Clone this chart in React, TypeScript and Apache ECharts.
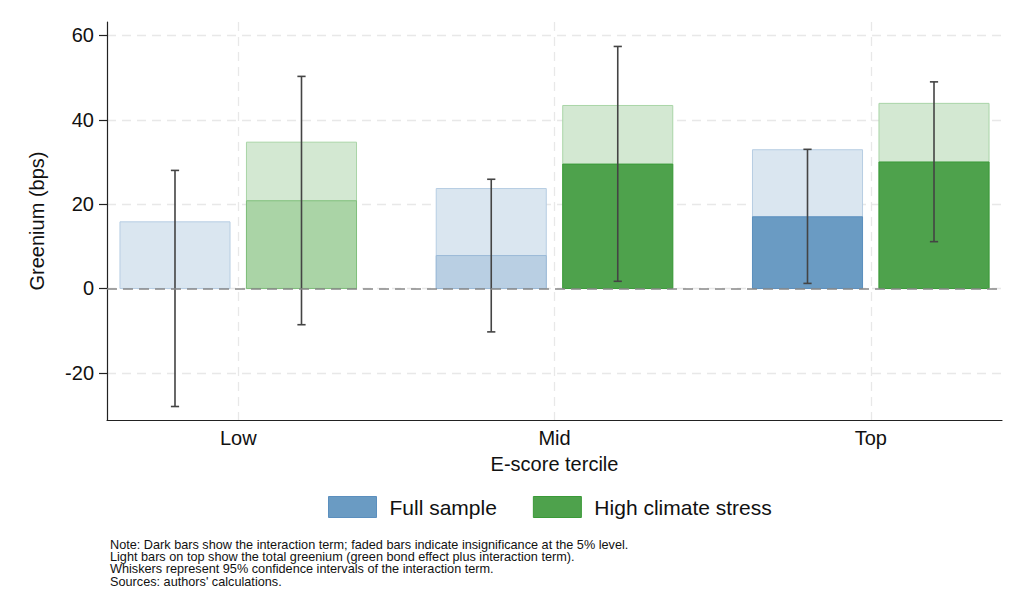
import React, { useEffect, useRef } from "react";
import * as echarts from "echarts";

const categories = ["Low", "Mid", "Top"];
const yTicks = [-20, 0, 20, 40, 60];

// Full sample
const fullTotal = [15.8, 23.7, 32.9];
const fullInter = [0.0, 7.8, 17.0];
const fullLo = [-28.0, -10.3, 1.2];
const fullHi = [28.0, 25.9, 33.0];
const fullSig = [false, false, true];

// High climate stress
const hcsTotal = [34.7, 43.4, 43.9];
const hcsInter = [20.8, 29.5, 30.0];
const hcsLo = [-8.6, 1.7, 11.1];
const hcsHi = [50.3, 57.4, 49.0];
const hcsSig = [false, true, true];

const noteLines = [
  "Note: Dark bars show the interaction term; faded bars indicate insignificance at the 5% level.",
  "Light bars on top show the total greenium (green bond effect plus interaction term).",
  "Whiskers represent 95% confidence intervals of the interaction term.",
  "Sources: authors' calculations.",
];

const FONT = "Liberation Sans, Arial, sans-serif";

const palettes = {
  full: {
    totalFill: "#dae6f0",
    totalBorder: "#b6cde3",
    fadedFill: "#b9cfe3",
    fadedBorder: "#9ab9d7",
    darkFill: "#6a9bc3",
    darkBorder: "#5b8fbe",
  },
  hcs: {
    totalFill: "#d3e8d2",
    totalBorder: "#a9d5a7",
    fadedFill: "#aad4a6",
    fadedBorder: "#7fbf7b",
    darkFill: "#4ea24c",
    darkBorder: "#3a9a38",
  },
};

function makeData(total: number[], inter: number[], lo: number[], hi: number[], sig: boolean[]) {
  return categories.map((_, i) => [i + 1, total[i], inter[i], lo[i], hi[i], sig[i] ? 1 : 0]);
}

function makeRenderItem(offset: number, pal: any) {
  const halfW = 0.174;
  const capHalf = 0.013;
  return (params: any, api: any) => {
    const x = api.value(0) + offset;
    const total = api.value(1);
    const inter = api.value(2);
    const lo = api.value(3);
    const hi = api.value(4);
    const sig = api.value(5) === 1;
    const a0 = api.coord([x - halfW, 0]);
    const aT = api.coord([x + halfW, total]);
    const aI = api.coord([x + halfW, inter]);
    const c = api.coord([x, lo]);
    const d = api.coord([x, hi]);
    const capL = api.coord([x - capHalf, lo])[0];
    const capR = api.coord([x + capHalf, lo])[0];
    const children: any[] = [
      {
        type: "rect",
        shape: { x: a0[0], y: aT[1], width: aT[0] - a0[0], height: a0[1] - aT[1] },
        style: { fill: pal.totalFill, stroke: pal.totalBorder, lineWidth: 1 },
      },
    ];
    if (Math.abs(inter) > 0.05) {
      children.push({
        type: "rect",
        shape: { x: a0[0], y: aI[1], width: aI[0] - a0[0], height: a0[1] - aI[1] },
        style: {
          fill: sig ? pal.darkFill : pal.fadedFill,
          stroke: sig ? pal.darkBorder : pal.fadedBorder,
          lineWidth: 1,
        },
      });
    }
    const wStyle = { stroke: "#444", lineWidth: 1.6 };
    children.push(
      { type: "line", shape: { x1: c[0], y1: c[1], x2: d[0], y2: d[1] }, style: wStyle, z2: 10 },
      { type: "line", shape: { x1: capL, y1: c[1], x2: capR, y2: c[1] }, style: wStyle, z2: 10 },
      { type: "line", shape: { x1: capL, y1: d[1], x2: capR, y2: d[1] }, style: wStyle, z2: 10 }
    );
    return { type: "group", children };
  };
}

export default function App() {
  const ref = useRef<HTMLDivElement>(null);
  useEffect(() => {
    if (!ref.current) return;
    const chart = echarts.init(ref.current, null, { renderer: "svg" });
    const option: any = {
      animation: false,
      backgroundColor: "#ffffff",
      textStyle: { fontFamily: FONT },
      grid: { left: 107, right: 22, top: 22, bottom: 194, containLabel: false },
      xAxis: {
        type: "value",
        min: 0.585,
        max: 3.415,
        name: "E-score tercile",
        nameLocation: "middle",
        nameGap: 34,
        nameTextStyle: { fontSize: 20, color: "#111", fontFamily: FONT },
        axisLine: { show: true, onZero: false, lineStyle: { color: "#222", width: 1.2 } },
        axisTick: { show: false, customValues: [1, 2, 3] },
        axisLabel: {
          customValues: [1, 2, 3],
          formatter: (v: number) => categories[Math.round(v) - 1] ?? "",
          fontSize: 20,
          color: "#111",
          margin: 8,
          fontFamily: FONT,
        },
        splitLine: { show: true, lineStyle: { color: "#e8e8e8", type: [9, 6], width: 1.3 } },
      },
      yAxis: {
        type: "value",
        min: -31.2,
        max: 63.2,
        name: "Greenium (bps)",
        nameLocation: "middle",
        nameGap: 60,
        nameTextStyle: { fontSize: 20, color: "#111", fontFamily: FONT },
        axisLine: { show: true, onZero: false, lineStyle: { color: "#222", width: 1.2 } },
        axisTick: { show: true, length: 8, customValues: yTicks, lineStyle: { color: "#222", width: 1.2 } },
        axisLabel: { customValues: yTicks, fontSize: 20, color: "#111", margin: 13, fontFamily: FONT },
        splitLine: { show: true, lineStyle: { color: "#e8e8e8", type: [9, 6], width: 1.3 } },
      },
      legend: {
        left: 328,
        top: 496,
        padding: 0,
        itemWidth: 48,
        itemHeight: 21,
        itemGap: 36,
        icon: "rect",
        textStyle: { fontSize: 21, color: "#111", fontFamily: FONT, padding: [0, 0, 0, 8] },
        data: [
          { name: "Full sample", itemStyle: { color: "#6a9bc3", borderColor: "#5b8fbe", borderWidth: 1 } },
          { name: "High climate stress", itemStyle: { color: "#4ea24c", borderColor: "#3a9a38", borderWidth: 1 } },
        ],
      },
      series: [
        {
          type: "custom",
          name: "Full sample",
          itemStyle: { color: "#6a9bc3" },
          renderItem: makeRenderItem(-0.2, palettes.full),
          data: makeData(fullTotal, fullInter, fullLo, fullHi, fullSig),
          encode: { x: 0, y: [1, 2, 3, 4] },
          z: 2,
        },
        {
          type: "custom",
          name: "High climate stress",
          itemStyle: { color: "#4ea24c" },
          renderItem: makeRenderItem(0.2, palettes.hcs),
          data: makeData(hcsTotal, hcsInter, hcsLo, hcsHi, hcsSig),
          encode: { x: 0, y: [1, 2, 3, 4] },
          z: 2,
        },
        {
          type: "line",
          name: "zero",
          data: [],
          z: 5,
          markLine: {
            silent: true,
            symbol: "none",
            label: { show: false },
            lineStyle: { color: "#888", type: [10, 6], width: 1.6 },
            data: [{ yAxis: 0 }],
          },
        },
      ],
      graphic: [
        {
          type: "text",
          left: 110,
          top: 538,
          style: {
            text: noteLines.join("\n"),
            fontSize: 12.7,
            lineHeight: 12.4,
            fill: "#111",
            fontFamily: FONT,
          },
        },
      ],
    };
    chart.setOption(option);
    return () => chart.dispose();
  }, []);
  return (
    <div
      ref={ref}
      style={{ position: "absolute", left: 0, top: 0, width: 1024, height: 614 }}
    />
  );
}
